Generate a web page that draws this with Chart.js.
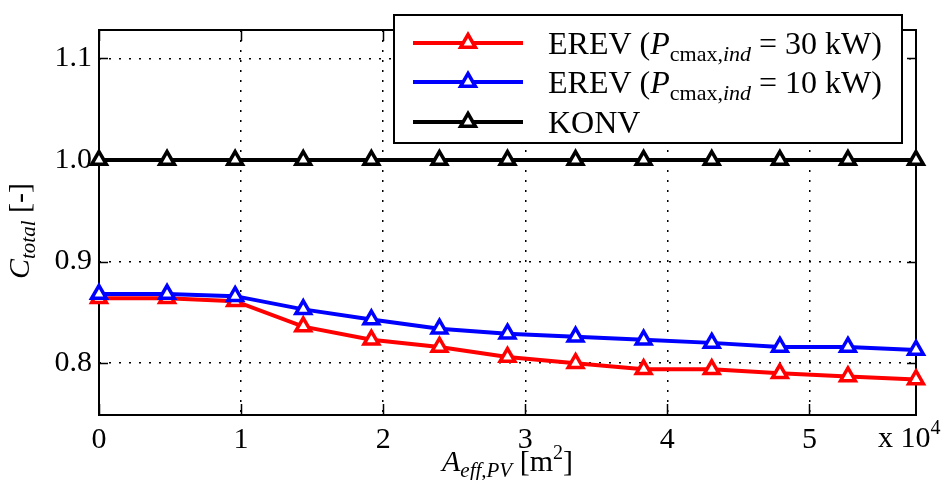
<!DOCTYPE html>
<html>
<head>
<meta charset="utf-8">
<script src="https://cdn.jsdelivr.net/npm/chart.js@4.4.0/dist/chart.umd.min.js"></script>
<style>
  html, body { margin: 0; padding: 0; background: #fff; }
  #wrap { width: 949px; height: 480px; position: relative; }
</style>
</head>
<body>
<div id="wrap"><canvas id="chart"></canvas></div>
<script>
// A_eff,PV in units of 10^4 m^2
const areaPV = [0, 0.479, 0.958, 1.4375, 1.917, 2.396, 2.875, 3.354, 3.833, 4.3125, 4.792, 5.271, 5.75];
const erev30 = [0.864, 0.864, 0.861, 0.836, 0.823, 0.816, 0.806, 0.800, 0.794, 0.794, 0.790, 0.787, 0.784];
const erev10 = [0.868, 0.868, 0.866, 0.853, 0.843, 0.834, 0.829, 0.826, 0.823, 0.820, 0.816, 0.816, 0.813];
const konv   = [1.0, 1.0, 1.0, 1.0, 1.0, 1.0, 1.0, 1.0, 1.0, 1.0, 1.0, 1.0, 1.0];
const xTicks = [0, 1, 2, 3, 4, 5];
const yTicks = [0.8, 0.9, 1.0, 1.1];
const seriesNames = ['EREV (Pcmax,ind = 30 kW)', 'EREV (Pcmax,ind = 10 kW)', 'KONV'];
const seriesColors = ['#ff0000', '#0000ff', '#000000'];

const SERIF = '"Liberation Serif", "Times New Roman", serif';

const toXY = (xs, ys) => xs.map((x, i) => ({ x: x, y: ys[i] }));

// draw a run of text pieces with different fonts / baseline shifts
function drawRich(ctx, parts, x, y) {
  let cx = x;
  parts.forEach(p => {
    ctx.font = p.f;
    ctx.fillText(p.t, cx, y + (p.dy || 0));
    cx += ctx.measureText(p.t).width;
  });
  return cx;
}
function richWidth(ctx, parts) {
  let w = 0;
  parts.forEach(p => { ctx.font = p.f; w += ctx.measureText(p.t).width; });
  return w;
}

const frame = {
  id: 'frame',
  beforeDatasetsDraw(chart) {
    const { ctx, chartArea: a, scales } = chart;
    ctx.save();
    ctx.strokeStyle = '#000';
    ctx.lineWidth = 2;
    ctx.strokeRect(a.left, a.top, a.right - a.left, a.bottom - a.top);
    ctx.lineWidth = 1.5;
    ctx.beginPath();
    xTicks.forEach(v => {
      const px = Math.round(scales.x.getPixelForValue(v)) + 0.5;
      ctx.moveTo(px, a.bottom); ctx.lineTo(px, a.bottom - 11);
      ctx.moveTo(px, a.top); ctx.lineTo(px, a.top + 11);
    });
    yTicks.forEach(v => {
      const py = Math.round(scales.y.getPixelForValue(v)) + 0.5;
      ctx.moveTo(a.left, py); ctx.lineTo(a.left + 9, py);
      ctx.moveTo(a.right, py); ctx.lineTo(a.right - 9, py);
    });
    ctx.stroke();
    ctx.restore();
  },
  afterDraw(chart) {
    const { ctx, chartArea: a } = chart;
    ctx.save();
    ctx.fillStyle = '#000';
    ctx.textBaseline = 'alphabetic';

    // x axis label
    const xl = [
      { t: 'A', f: 'italic 30px ' + SERIF },
      { t: 'eff,PV', f: 'italic 21px ' + SERIF, dy: 6 },
      { t: ' [m', f: '30px ' + SERIF },
      { t: '2', f: '20px ' + SERIF, dy: -12 },
      { t: ']', f: '30px ' + SERIF }
    ];
    const cxl = (a.left + a.right) / 2;
    drawRich(ctx, xl, cxl - richWidth(ctx, xl) / 2, 471);

    // exponent at bottom right
    drawRich(ctx, [
      { t: 'x 10', f: '30px ' + SERIF },
      { t: '4', f: '20px ' + SERIF, dy: -13 }
    ], 878, 447);

    // y axis label
    const yl = [
      { t: 'C', f: 'italic 30px ' + SERIF },
      { t: 'total', f: 'italic 21px ' + SERIF, dy: 6 },
      { t: ' [-]', f: '30px ' + SERIF }
    ];
    ctx.translate(29, 231);
    ctx.rotate(-Math.PI / 2);
    drawRich(ctx, yl, -richWidth(ctx, yl) / 2, 0);
    ctx.setTransform(1, 0, 0, 1, 0, 0);

    // legend
    const lx = 394, ly = 15, lw = 508, lh = 128;
    ctx.fillStyle = '#fff';
    ctx.fillRect(lx, ly, lw, lh);
    ctx.strokeStyle = '#000';
    ctx.lineWidth = 2;
    ctx.strokeRect(lx, ly, lw, lh);
    const rows = [
      [{ t: 'EREV (', f: '32px ' + SERIF }, { t: 'P', f: 'italic 32px ' + SERIF },
       { t: 'cmax,', f: '22px ' + SERIF, dy: 7 }, { t: 'ind', f: 'italic 22px ' + SERIF, dy: 7 },
       { t: ' = 30 kW)', f: '32px ' + SERIF }],
      [{ t: 'EREV (', f: '32px ' + SERIF }, { t: 'P', f: 'italic 32px ' + SERIF },
       { t: 'cmax,', f: '22px ' + SERIF, dy: 7 }, { t: 'ind', f: 'italic 22px ' + SERIF, dy: 7 },
       { t: ' = 10 kW)', f: '32px ' + SERIF }],
      [{ t: 'KONV', f: '32px ' + SERIF }]
    ];
    const rowY = [43, 82, 122];
    rows.forEach((parts, i) => {
      const y = rowY[i];
      ctx.strokeStyle = seriesColors[i];
      ctx.lineWidth = 4;
      ctx.beginPath();
      ctx.moveTo(413, y); ctx.lineTo(523, y);
      ctx.stroke();
      // hollow triangle marker
      const r = 8.5, mx = 468;
      ctx.lineWidth = 3.5;
      ctx.beginPath();
      ctx.moveTo(mx, y - r);
      ctx.lineTo(mx + r * 0.87, y + r * 0.5);
      ctx.lineTo(mx - r * 0.87, y + r * 0.5);
      ctx.closePath();
      ctx.fillStyle = '#fff';
      ctx.fill();
      ctx.stroke();
      ctx.fillStyle = '#000';
      drawRich(ctx, parts, 548, y + 11);
    });
    ctx.restore();
  }
};

const makeSet = (i, ys, order) => ({
  label: seriesNames[i],
  data: toXY(areaPV, ys),
  borderColor: seriesColors[i],
  backgroundColor: '#fff',
  borderWidth: 4,
  pointStyle: 'triangle',
  pointRadius: 8.5,
  pointBorderWidth: 3.5,
  pointBackgroundColor: '#fff',
  pointBorderColor: seriesColors[i],
  tension: 0,
  clip: false,
  order: order
});

new Chart(document.getElementById('chart'), {
  type: 'line',
  data: {
    datasets: [
      makeSet(0, erev30, 2),
      makeSet(1, erev10, 1),
      makeSet(2, konv, 0)
    ]
  },
  options: {
    responsive: true,
    maintainAspectRatio: false,
    animation: false,
    layout: { padding: { top: 30, right: 33, left: 0, bottom: 0 } },
    plugins: {
      legend: { display: false },
      tooltip: { enabled: false }
    },
    scales: {
      x: {
        type: 'linear',
        min: 0,
        max: 5.75,
        afterBuildTicks: s => { s.ticks = xTicks.map(v => ({ value: v })); },
        afterFit: s => { s.height = 65; },
        ticks: {
          color: '#000',
          padding: 7,
          maxRotation: 0,
          font: { family: SERIF, size: 30 },
          callback: v => String(v)
        },
        grid: { color: '#000', lineWidth: 1.5, drawTicks: false },
        border: { display: false, dash: [2, 8] }
      },
      y: {
        type: 'linear',
        min: 0.749,
        max: 1.128,
        afterBuildTicks: s => { s.ticks = yTicks.map(v => ({ value: v })); },
        afterFit: s => { s.width = 99; },
        ticks: {
          color: '#000',
          padding: 7,
          font: { family: SERIF, size: 30 },
          callback: v => Number(v).toFixed(1)
        },
        grid: { color: '#000', lineWidth: 1.5, drawTicks: false },
        border: { display: false, dash: [2, 8] }
      }
    }
  },
  plugins: [frame]
});
</script>
</body>
</html>
